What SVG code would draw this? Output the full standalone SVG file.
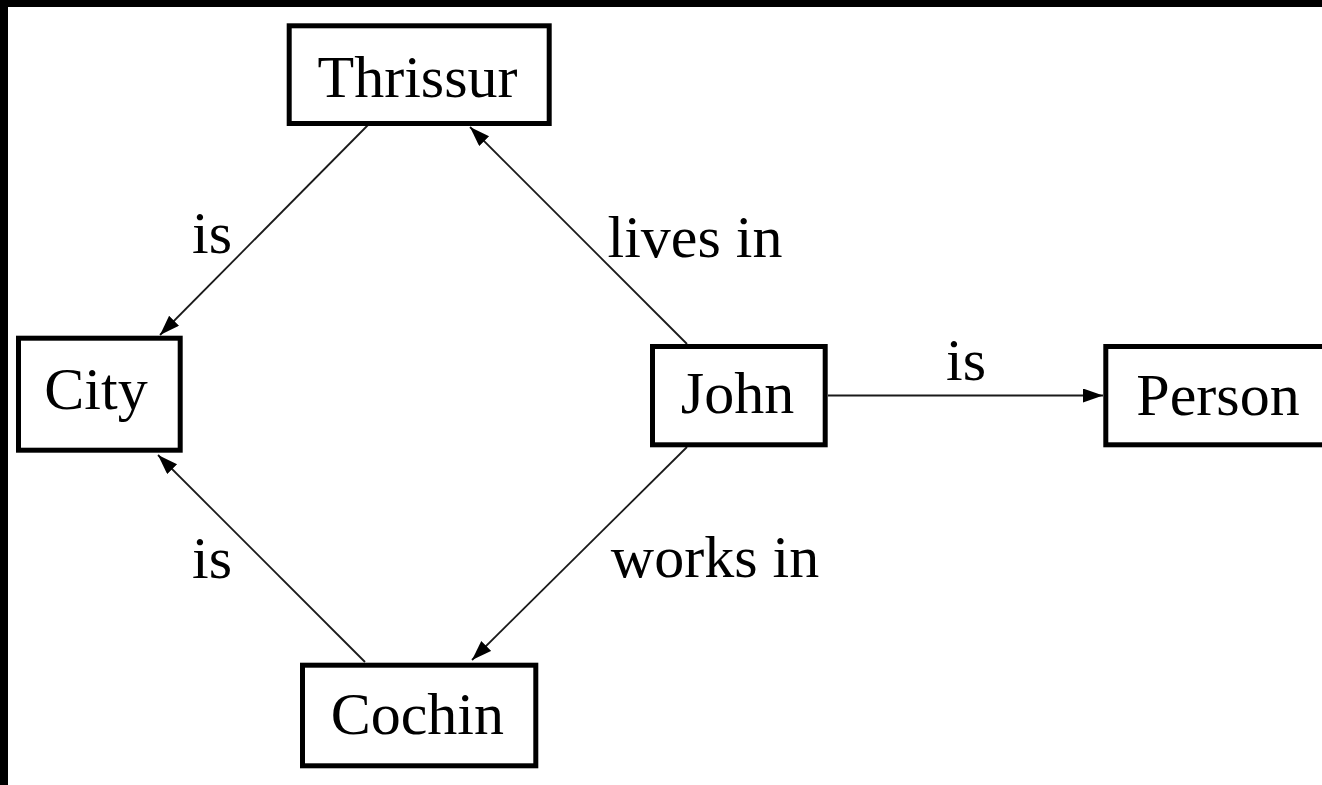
<svg xmlns="http://www.w3.org/2000/svg" width="1322" height="785" viewBox="0 0 1322 785">
<style>
.box{fill:#fff;stroke:#000;stroke-width:5}
.t{font-family:"Liberation Serif","Times New Roman",serif;font-size:60px;fill:#000;text-anchor:middle}
.e{fill:none;stroke:#1a1a1a;stroke-width:1.8}
</style>
<defs>
<marker id="arr" markerUnits="userSpaceOnUse" markerWidth="24" markerHeight="16" refX="20" refY="7" orient="auto">
<path d="M0,0 L20,7 L0,14 Z" fill="#000"/>
</marker>
</defs>
<rect x="0" y="0" width="1322" height="785" fill="#000"/>
<rect x="8" y="7" width="1314" height="778" fill="#fff"/>
<g id="connectors">
<line class="e" x1="368" y1="125" x2="160" y2="335" marker-end="url(#arr)"/>
<line class="e" x1="687" y1="344" x2="470" y2="127" marker-end="url(#arr)"/>
<line class="e" x1="687" y1="447" x2="472" y2="660" marker-end="url(#arr)"/>
<line class="e" x1="365" y1="662" x2="158" y2="455" marker-end="url(#arr)"/>
<line class="e" x1="828" y1="395.5" x2="1103" y2="395.5" marker-end="url(#arr)"/>
<text class="t" x="212" y="253">is</text>
<text class="t" x="695" y="257">lives in</text>
<text class="t" x="715" y="577">works in</text>
<text class="t" x="212" y="578">is</text>
<text class="t" x="966" y="380">is</text>
</g>
<g id="thrissur">
<rect class="box" x="289.2" y="25.8" width="260" height="97.7"/>
<text class="t" x="417.5" y="97">Thrissur</text>
</g>
<g id="city">
<rect class="box" x="18.5" y="338.2" width="161.7" height="112"/>
<text class="t" x="96" y="409">City</text>
</g>
<g id="john">
<rect class="box" x="652.5" y="346.5" width="172.7" height="98.3"/>
<text class="t" x="737.5" y="413">John</text>
</g>
<g id="person">
<rect class="box" x="1105.8" y="346.5" width="300" height="98.3"/>
<text class="t" x="1218" y="415">Person</text>
</g>
<g id="cochin">
<rect class="box" x="302.5" y="665.2" width="233.3" height="100.6"/>
<text class="t" x="417.3" y="734">Cochin</text>
</g>
</svg>
